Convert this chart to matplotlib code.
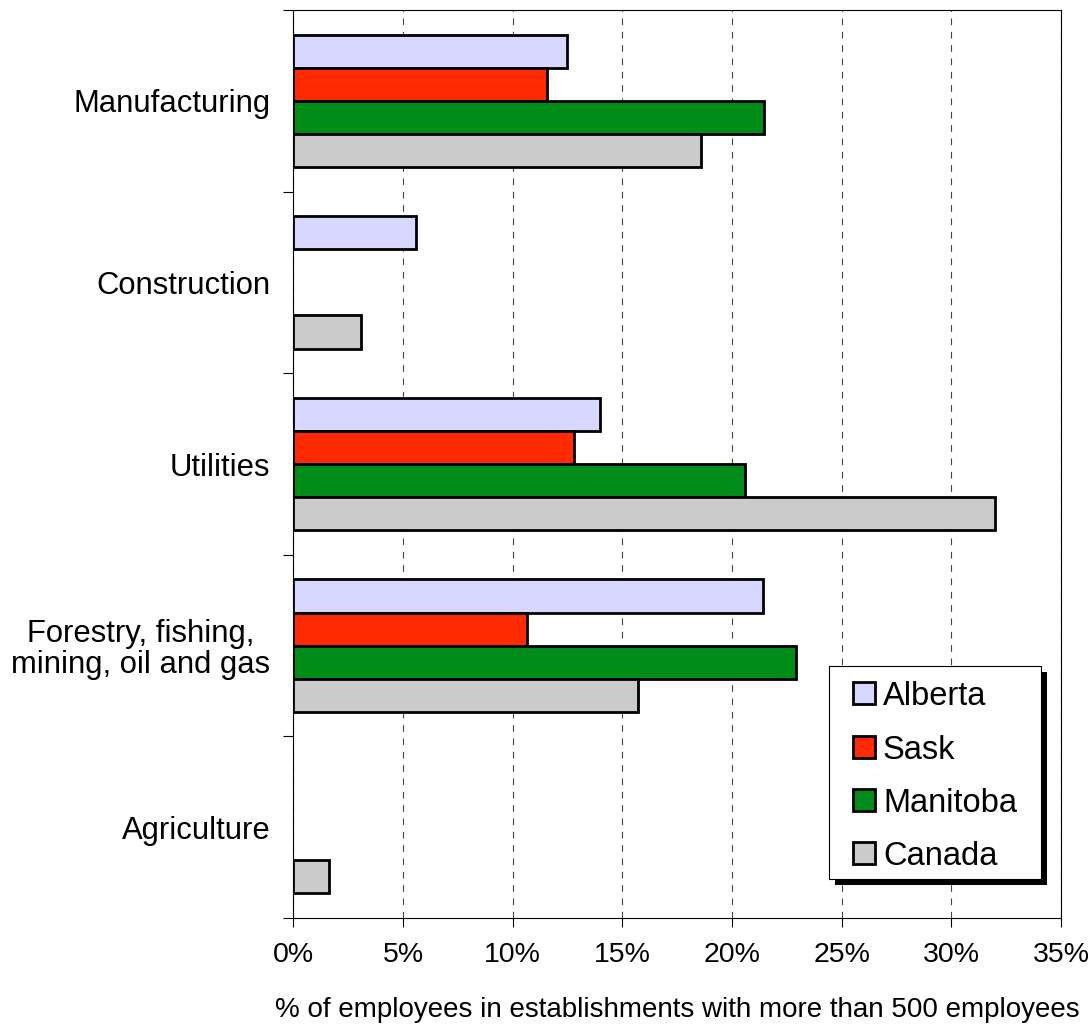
import numpy as np
import matplotlib
matplotlib.use("Agg")
import matplotlib.pyplot as plt
from matplotlib.patches import Rectangle
from matplotlib.ticker import FixedLocator, PercentFormatter

plt.rcParams['font.family'] = ['Liberation Sans', 'DejaVu Sans']

# Share of employees working in establishments with more than 500 employees (%)
categories = ["Manufacturing", "Construction", "Utilities",
              "Forestry, fishing,\nmining, oil and gas", "Agriculture"]
series = ["Alberta", "Sask", "Manitoba", "Canada"]
alberta = [12.5, 5.6, 14.0, 21.4, np.nan]
sask = [11.55, np.nan, 12.8, 10.65, np.nan]
manitoba = [21.45, np.nan, 20.6, 22.9, np.nan]
canada = [18.6, 3.1, 32.0, 15.7, 1.65]
values = [alberta, sask, manitoba, canada]
colors = ["#D7D7FF", "#FF2A00", "#008C18", "#CBCBCB"]
x_ticks = [0, 5, 10, 15, 20, 25, 30, 35]

W, H = 1091, 1026


def fig_xy(x, y):
    """Pixel position (from top-left) to figure fraction."""
    return x / W, 1 - y / H


fig = plt.figure(figsize=(W / 100, H / 100), dpi=100)
ax = fig.add_axes([293.3 / W, 1 - 918 / H, (1060.9 - 293.3) / W, (918 - 10) / H])

y = np.arange(len(categories))
bar_h = 0.182
for j, (name, vals, col) in enumerate(zip(series, values, colors)):
    ax.barh(y + (j - 1.5) * bar_h, vals, height=bar_h, color=col,
            edgecolor="black", linewidth=2.0, label=name, zorder=3)

ax.set_xlim(0, 35)
ax.set_ylim(len(categories) - 0.5, -0.5)

# x axis: percentage ticks with dashed vertical gridlines
ax.xaxis.set_major_locator(FixedLocator(x_ticks))
ax.xaxis.set_major_formatter(PercentFormatter(decimals=0))
ax.tick_params(axis="x", which="major", direction="out", length=6.5, width=0.8,
               labelsize=20.5, pad=11)
ax.grid(axis="x", which="major", color="#444444", linestyle=(0, (6, 6)),
        linewidth=0.8, zorder=0)
ax.set_axisbelow(True)

# y axis: category names centred, tick marks on category boundaries
ax.set_yticks(y)
ax.set_yticklabels(categories)
ax.yaxis.set_minor_locator(FixedLocator(np.arange(len(categories) + 1) - 0.5))
ax.tick_params(axis="y", which="major", length=0, labelsize=22.3, pad=23 * 0.72)
ax.tick_params(axis="y", which="minor", direction="out", length=7, width=0.8)
for lbl in ax.get_yticklabels():
    lbl.set_multialignment("center")
    lbl.set_linespacing(1.05)

for sp in ax.spines.values():
    sp.set_linewidth(0.8)
    sp.set_color("black")

fig.text((293.3 + 1060.9) / 2 / W, 1 - 1017 / H,
         "% of employees in establishments with more than 500 employees",
         ha="center", va="baseline", fontsize=20)

# Legend box with a solid drop shadow
box_l, box_t, box_r, box_b = 829, 666, 1041, 879
shadow_off = 6
x0, y0 = fig_xy(box_l + shadow_off, box_b + shadow_off)
fig.add_artist(Rectangle((x0, y0), (box_r - box_l) / W, (box_b - box_t) / H,
                         transform=fig.transFigure, facecolor="black",
                         edgecolor="none", zorder=10))
x0, y0 = fig_xy(box_l, box_b)
fig.add_artist(Rectangle((x0, y0), (box_r - box_l) / W, (box_b - box_t) / H,
                         transform=fig.transFigure, facecolor="white",
                         edgecolor="black", linewidth=0.8, zorder=11))
row_centres = [693, 747, 800, 853]
sq = 22
for name, col, yc in zip(series, colors, row_centres):
    hx, hy = fig_xy(853, yc + sq / 2)
    fig.add_artist(Rectangle((hx, hy), sq / W, sq / H, transform=fig.transFigure,
                             facecolor=col, edgecolor="black", linewidth=2.0,
                             zorder=12))
    tx, ty = fig_xy(883, yc)
    fig.text(tx, ty, name, ha="left", va="center_baseline", fontsize=23.5,
             zorder=12)

fig.savefig("out.png", dpi=100, facecolor="white")
